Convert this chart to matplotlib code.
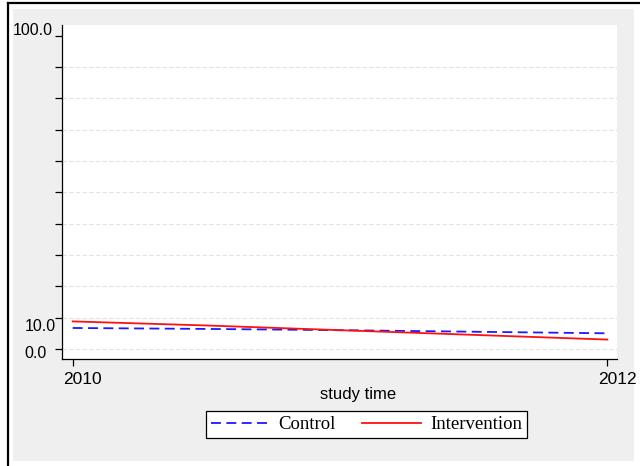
import matplotlib
matplotlib.use("Agg")
import matplotlib.pyplot as plt
from matplotlib.patches import Rectangle
from matplotlib.lines import Line2D
from matplotlib.transforms import ScaledTranslation

# data
years = [2010, 2010.5, 2011, 2011.5, 2012]
control = [6.7, 6.4, 6.0, 5.5, 5.0]
intervention = [8.8, 7.5, 6.0, 4.5, 3.0]
ytick_vals = [0, 10, 20, 30, 40, 50, 60, 70, 80, 90, 100]
ytick_labels = ["0.0", "10.0", "", "", "", "", "", "", "", "", "100.0"]
xtick_vals = [2010, 2012]
xtick_labels = ["2010", "2012"]

W, H = 640, 466
fig = plt.figure(figsize=(6.4, 4.66), dpi=100)
fig.patch.set_facecolor("white")

def fx(px):
    return px / W

def fy(py):
    return 1 - py / H

# stata-like grey graph region and the document frame around it
fig.add_artist(Rectangle((fx(13), fy(461)), fx(634) - fx(13), fy(9) - fy(461),
                         transform=fig.transFigure, facecolor="#efefef",
                         edgecolor="none", zorder=0))
fig.add_artist(Line2D([fx(7.5), fx(7.5)], [0, fy(2.5)], transform=fig.transFigure,
                      color="black", lw=1.6))
fig.add_artist(Line2D([fx(7.5), 1], [fy(2.5), fy(2.5)], transform=fig.transFigure,
                      color="black", lw=1.6))

ax = fig.add_axes([fx(62), fy(359), fx(617) - fx(62), fy(25) - fy(359)])
ax.set_facecolor("white")

ax.plot(years, control, color="#1a1aff", lw=1.3, dashes=(5.5, 3), label="Control", zorder=3)
ax.plot(years, intervention, color="#ff1010", lw=1.3, label="Intervention", zorder=4)

ax.set_xlim(2009.96, 2012.036)
ax.set_ylim(-3.2, 103.4)

for s in ["top", "right"]:
    ax.spines[s].set_visible(False)
for s in ["left", "bottom"]:
    ax.spines[s].set_color("black")
    ax.spines[s].set_linewidth(0.9)

ax.set_yticks(ytick_vals)
ax.set_yticklabels(ytick_labels, fontfamily="Liberation Sans", fontsize=11.5)
ax.set_xticks(xtick_vals)
ax.set_xticklabels(xtick_labels, fontfamily="Liberation Sans", fontsize=12.5)
ax.tick_params(axis="both", direction="out", length=5, width=0.9, color="black")
ax.tick_params(axis="y", pad=3)
ax.tick_params(axis="x", pad=4)

ax.grid(axis="y", color="#e2e2e2", lw=0.8, linestyle=(0, (4, 2)))
ax.yaxis.get_gridlines()[-1].set_visible(False)
ax.set_axisbelow(True)

# label nudges (pixels) to match the odd stata placement
pt = 72 / 100
y_offsets = {0: (-4, -3.5), 1: (5, -7.8), 10: (2, 6.5)}
for i, lab in enumerate(ax.get_yticklabels()):
    if i in y_offsets:
        dx, dy = y_offsets[i]
        lab.set_transform(lab.get_transform() +
                          ScaledTranslation(dx * pt / 72, dy * pt / 72, fig.dpi_scale_trans))
for lab in ax.get_xticklabels():
    lab.set_transform(lab.get_transform() +
                      ScaledTranslation(10 * pt / 72, 0, fig.dpi_scale_trans))

fig.text(fx(358.5), fy(394), "study time", ha="center", va="center",
         fontfamily="Liberation Sans", fontsize=12)

leg = fig.legend(loc="center", bbox_to_anchor=(fx(366.5), fy(424.5)), ncol=2,
                 prop={"family": "Liberation Serif", "size": 13.5},
                 handlelength=3.15, handletextpad=0.48, columnspacing=1.4,
                 borderpad=0.25, fancybox=False, framealpha=1)
leg.get_frame().set_edgecolor("black")
leg.get_frame().set_linewidth(0.9)

fig.savefig("out.png", dpi=100)
